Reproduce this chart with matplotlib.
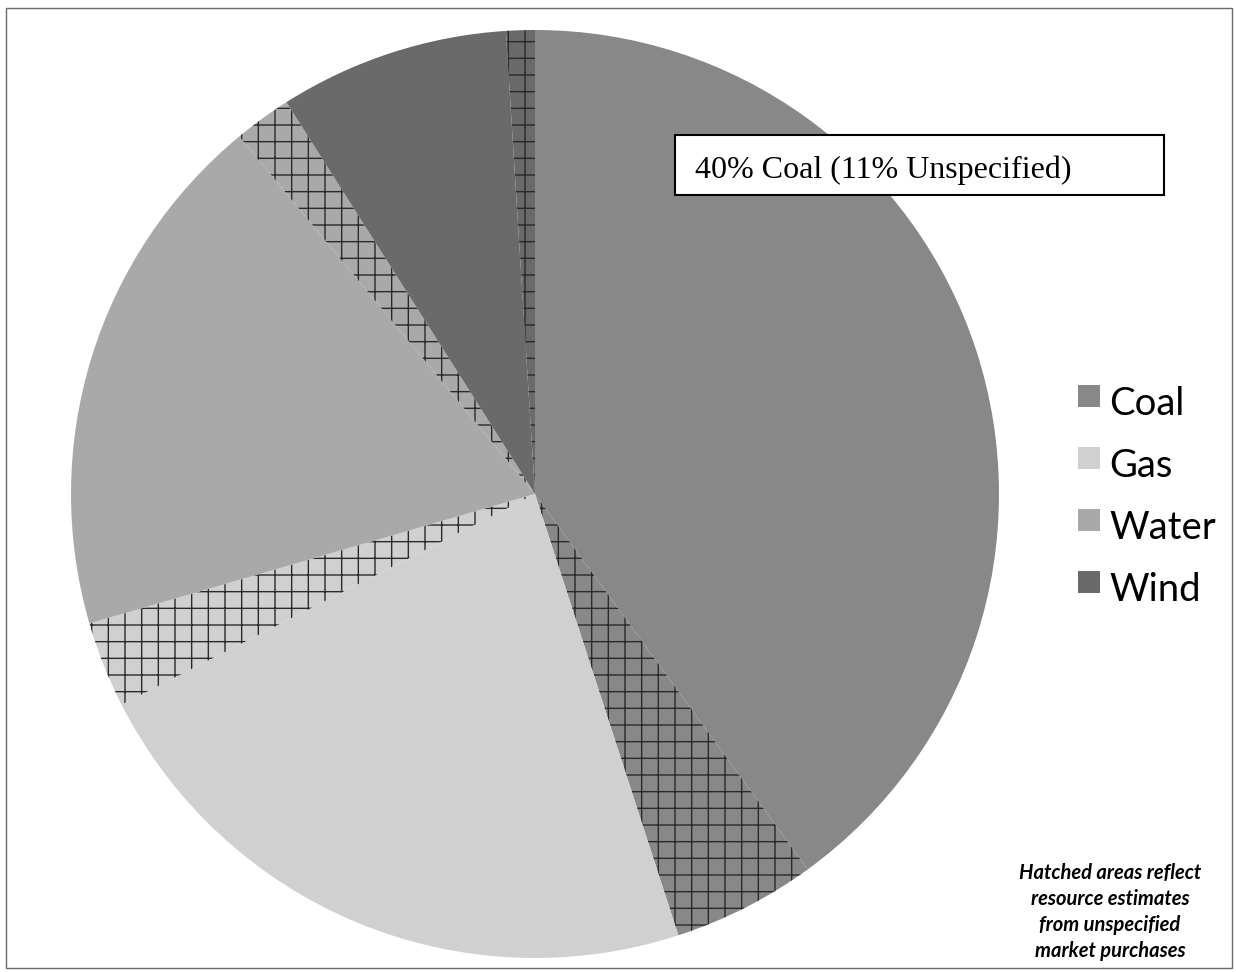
import matplotlib
matplotlib.use("Agg")
import matplotlib.pyplot as plt
from matplotlib.patches import Rectangle

# Resource mix, clockwise from 12 o'clock; each source split into
# specified share and share estimated from unspecified market purchases
sources = ["Coal", "Gas", "Water", "Wind"]
specified = [40.0, 22.5, 18.5, 8.0]
unspecified = [5.0, 3.0, 2.0, 1.0]
source_colors = ["#888888", "#d0d0d0", "#a9a9a9", "#6a6a6a"]

box_text = "40% Coal (11% Unspecified)"
note_lines = ["Hatched areas reflect", "resource estimates",
              "from unspecified", "market purchases"]

W, H = 1236, 972
fig = plt.figure(figsize=(W / 100, H / 100), dpi=100)
fig.patch.set_facecolor("white")

# pie placement in pixels
cx, cy, r = 535, 494, 464
ax = fig.add_axes([(cx - r) / W, (H - cy - r) / H, 2 * r / W, 2 * r / H])

values, colors = [], []
for s, u, c in zip(specified, unspecified, source_colors):
    values += [s, u]
    colors += [c, c]

wedges, _ = ax.pie(values, colors=colors, startangle=90, counterclock=False,
                   radius=1.0, wedgeprops=dict(linewidth=0))
ax.set_xlim(-1, 1)
ax.set_ylim(-1, 1)

plt.rcParams["hatch.linewidth"] = 0.9
for i, w in enumerate(wedges):
    if i % 2 == 1:
        w.set_hatch("+")
        w.set_edgecolor("#2a2a2a")
        w.set_linewidth(0)

# outer frame
fig.add_artist(Rectangle((6 / W, 1 - 968 / H), (1232 - 6) / W, (968 - 8) / H,
                         transform=fig.transFigure, fill=False,
                         edgecolor="#6a6a6a", linewidth=1.0))

# annotation box
bx0, bx1, by0, by1 = 675, 1164, 135, 195
fig.add_artist(Rectangle((bx0 / W, 1 - by1 / H), (bx1 - bx0) / W, (by1 - by0) / H,
                         transform=fig.transFigure, facecolor="white",
                         edgecolor="black", linewidth=1.5, zorder=2))
fig.text(695 / W, 1 - 178 / H, box_text, family="Liberation Serif",
         fontsize=23, va="baseline", ha="left", zorder=3)

# legend
baselines = [415, 477, 539, 601]
for name, col, yb in zip(sources, source_colors, baselines):
    fig.add_artist(Rectangle((1078 / W, 1 - (yb - 8) / H), 22 / W, 22 / H,
                             transform=fig.transFigure, facecolor=col,
                             edgecolor="none", zorder=2))
    fig.text(1109 / W, 1 - yb / H, name, family="Lato", fontsize=27.5,
             va="baseline", ha="left")

# footnote
for k, line in enumerate(note_lines):
    fig.text(1110 / W, 1 - (873 + 26 * k) / H, line, family="Lato",
             fontsize=14.5, fontweight="bold", fontstyle="italic",
             ha="center", va="center")

fig.savefig("out.png", dpi=100)
